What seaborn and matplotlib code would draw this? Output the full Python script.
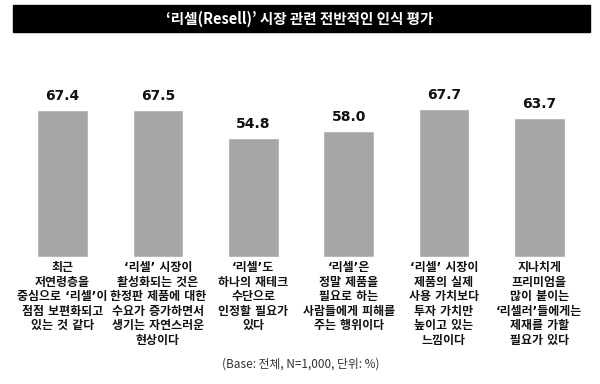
import matplotlib
matplotlib.use("Agg")
import matplotlib.pyplot as plt
import seaborn as sns
from matplotlib.patches import Rectangle

title = "‘리셀(Resell)’ 시장 관련 전반적인 인식 평가"
labels = [
    "최근\n저연령층을\n중심으로 ‘리셀’이\n점점 보편화되고\n있는 것 같다",
    "‘리셀’ 시장이\n활성화되는 것은\n한정판 제품에 대한\n수요가 증가하면서\n생기는 자연스러운\n현상이다",
    "‘리셀’도\n하나의 재테크\n수단으로\n인정할 필요가\n있다",
    "‘리셀’은\n정말 제품을\n필요로 하는\n사람들에게 피해를\n주는 행위이다",
    "‘리셀’ 시장이\n제품의 실제\n사용 가치보다\n투자 가치만\n높이고 있는\n느낌이다",
    "지나치게\n프리미엄을\n많이 붙이는\n‘리셀러’들에게는\n제재를 가할\n필요가 있다",
]
values = [67.4, 67.5, 54.8, 58.0, 67.7, 63.7]
note = "(Base: 전체, N=1,000, 단위: %)"

sns.set_theme(style="white")
plt.rcParams['font.family'] = ['Noto Sans CJK KR', 'DejaVu Sans']

fig = plt.figure(figsize=(6, 3.84), dpi=100)
W, H = 600, 384
# axes: x 15..587, bottom at y=257, ylim 0..80 (2.18 px per unit)
ax = fig.add_axes([15 / W, (H - 257) / H, 572 / W, 80 * 2.18 / H])

sns.barplot(x=list(range(len(values))), y=values, color="#a6a6a6",
            width=0.53, saturation=1, ax=ax)
ax.set_ylim(0, 80)
ax.set_xlim(-0.5, 5.5)
ax.set_yticks([])
ax.set_ylabel("")
sns.despine(ax=ax, left=True, bottom=True)

for i, v in enumerate(values):
    ax.annotate(f"{v:.1f}", (i, v), xytext=(0, 5), textcoords="offset points",
                ha="center", va="bottom", fontsize=10, fontweight="bold",
                color="#111111", family=['DejaVu Sans'])

ax.set_xticks(range(len(labels)))
# narrow quote marks from DejaVu, hangul from Noto CJK
ax.set_xticklabels(labels, fontsize=8.6, fontweight="bold", linespacing=1.15,
                   color="#111111", family=['DejaVu Sans', 'Noto Sans CJK KR'])
ax.tick_params(axis="x", length=0, pad=3)

fig.patches.append(Rectangle((13 / W, (H - 32) / H), 577 / W, 27 / H,
                             transform=fig.transFigure, color="black",
                             zorder=0))
fig.text(0.5, (H - 18.5) / H, title, color="white", ha="center", va="center",
         fontsize=10.5, fontweight="bold")
fig.text(301 / W, (H - 364) / H, note, ha="center", va="center",
         fontsize=8.5, color="#333333")

fig.savefig("out.png", dpi=100)
